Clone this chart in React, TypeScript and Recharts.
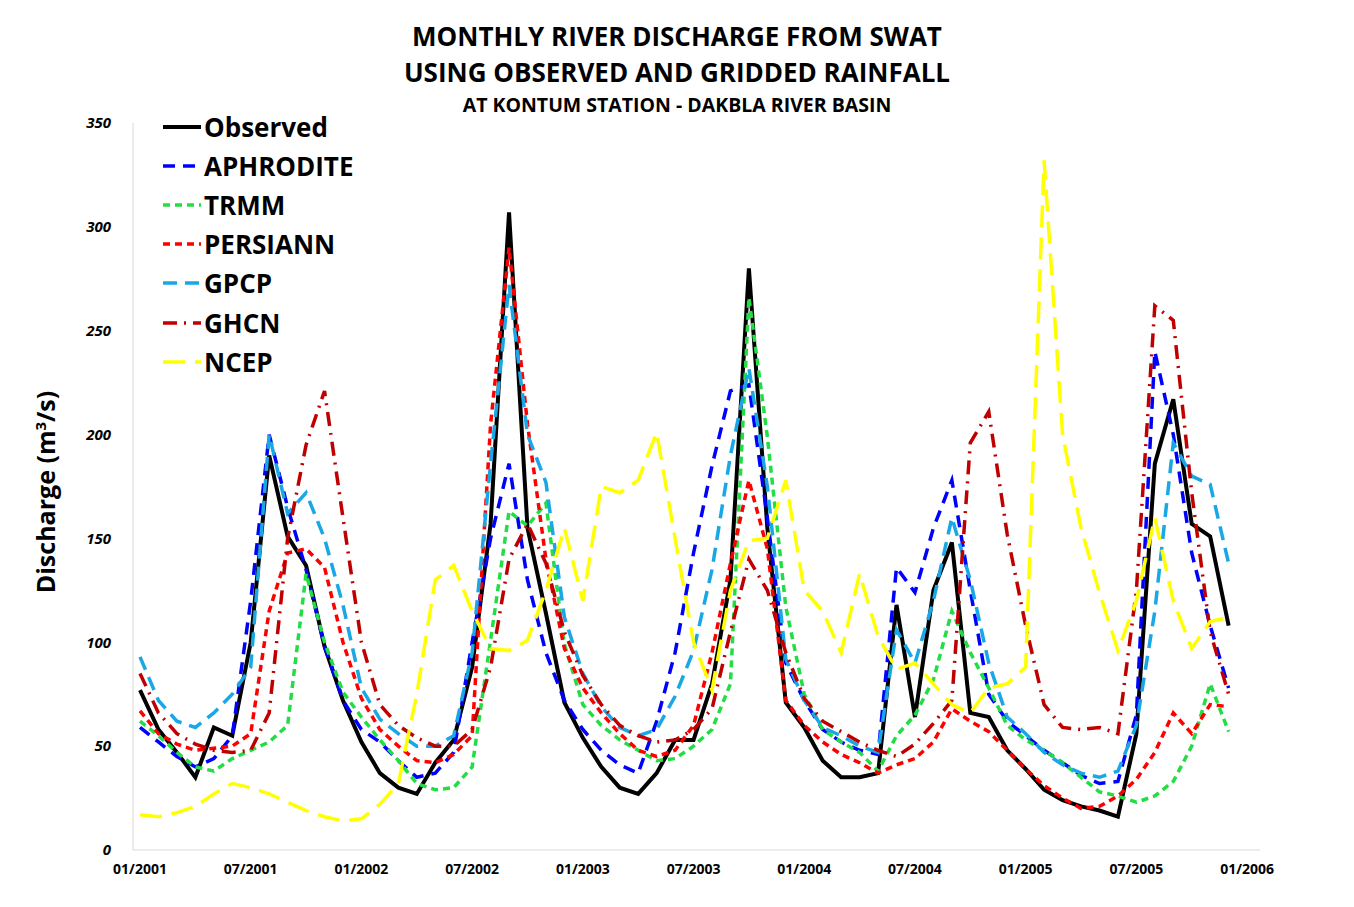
import React from "react";
import { LineChart, Line, XAxis, YAxis } from "recharts";

// monthly discharge (m3/s), 01/2001 .. 12/2005
const observed = [
    77, 58, 47, 35, 59, 55, 100, 190, 151, 137, 98, 72,
    52, 37, 30, 27, 42, 53, 88, 157, 307, 155, 114, 71,
    54, 40, 30, 27, 37, 53, 53, 80, 130, 280, 155, 71,
    59, 43, 35, 35, 37, 118, 64, 125, 148, 66, 64, 48,
    39, 29, 24, 21, 19, 16, 56, 186, 217, 157, 151, 108,
];
const aphrodite = [
    59, 52, 45, 40, 44, 55, 120, 200, 165, 135, 98, 72,
    58, 52, 43, 35, 37, 47, 100, 150, 186, 130, 95, 72,
    58, 48, 41, 37, 62, 95, 143, 185, 221, 224, 160, 90,
    72, 58, 52, 48, 46, 136, 124, 155, 178, 125, 75, 62,
    55, 48, 42, 36, 32, 33, 65, 240, 200, 143, 108, 78,
];
const trmm = [
    62, 55, 47, 40, 38, 44, 48, 52, 60, 133, 100, 76,
    64, 53, 43, 32, 29, 30, 40, 101, 163, 156, 167, 99,
    70, 60, 53, 48, 43, 44, 50, 58, 80, 266, 199, 117,
    75, 58, 52, 47, 38, 55, 65, 82, 115, 95, 78, 60,
    53, 48, 42, 35, 28, 26, 23, 26, 33, 50, 80, 57,
];
const persiann = [
    67, 56, 51, 48, 49, 50, 56, 115, 143, 145, 136, 100,
    73, 58, 50, 43, 42, 46, 55, 205, 290, 205, 140, 97,
    78, 66, 56, 48, 45, 48, 60, 95, 138, 178, 145, 72,
    60, 52, 46, 42, 37, 41, 44, 52, 68, 62, 57, 48,
    39, 31, 25, 20, 21, 26, 34, 47, 66, 56, 70, 69,
];
const gpcp = [
    93, 72, 62, 59, 66, 75, 88, 200, 162, 172, 150, 118,
    78, 63, 56, 50, 50, 55, 95, 186, 272, 200, 177, 112,
    85, 69, 59, 55, 58, 74, 96, 135, 190, 232, 175, 92,
    72, 59, 55, 50, 47, 106, 90, 120, 160, 130, 90, 64,
    56, 47, 41, 37, 35, 38, 60, 115, 196, 180, 176, 138,
];
const ghcn = [
    85, 66, 56, 51, 48, 47, 48, 66, 150, 195, 221, 160,
    100, 70, 60, 54, 50, 50, 58, 88, 140, 157, 138, 105,
    84, 70, 60, 55, 52, 53, 58, 68, 105, 140, 125, 95,
    73, 62, 57, 52, 48, 45, 51, 61, 72, 196, 211, 152,
    108, 70, 59, 58, 59, 56, 125, 262, 255, 172, 105, 75,
];
const ncep = [
    17, 16, 18, 21, 27, 32, 30, 27, 23, 19, 16, 14,
    15, 22, 32, 75, 130, 137, 115, 97, 96, 101, 125, 155,
    120, 175, 172, 178, 201, 150, 100, 77, 125, 149, 150, 178,
    125, 115, 95, 133, 103, 87, 90, 80, 70, 66, 78, 80,
    88, 332, 200, 155, 124, 96, 120, 160, 120, 97, 110, 112,
];

const tickPositions = [0, 6, 12, 18, 24, 30, 36, 42, 48, 54, 60];
const tickLabels = [
    "01/2001", "07/2001", "01/2002", "07/2002", "01/2003", "07/2003",
    "01/2004", "07/2004", "01/2005", "07/2005", "01/2006",
];
const yTicks = [0, 50, 100, 150, 200, 250, 300, 350];

const SERIES = [
    { key: "observed", name: "Observed", color: "#000000", dash: undefined, width: 4 },
    { key: "aphrodite", name: "APHRODITE", color: "#0000ff", dash: "12 8", width: 3.5 },
    { key: "trmm", name: "TRMM", color: "#22dd44", dash: "7 5", width: 3.5 },
    { key: "persiann", name: "PERSIANN", color: "#ff0000", dash: "7 5", width: 3.5 },
    { key: "gpcp", name: "GPCP", color: "#1aa7e6", dash: "14 8", width: 3.5 },
    { key: "ghcn", name: "GHCN", color: "#c00000", dash: "14 7 2 7", width: 3.5 },
    { key: "ncep", name: "NCEP", color: "#ffff00", dash: "22 10", width: 3.5 },
];

const data = observed.map((v, i) => ({
    m: i,
    observed: v,
    aphrodite: aphrodite[i],
    trmm: trmm[i],
    persiann: persiann[i],
    gpcp: gpcp[i],
    ghcn: ghcn[i],
    ncep: ncep[i],
}));

const FONT = "'Open Sans', sans-serif";

const LegendBox = () => (
    <div style={{ position: "absolute", left: 162, top: 107, fontFamily: FONT }}>
        {SERIES.map((s) => (
            <div key={s.key} style={{ display: "flex", alignItems: "center", height: 39.2 }}>
                <svg width={40} height={10}>
                    <line x1={1} y1={5} x2={39} y2={5} stroke={s.color} strokeWidth={s.width} strokeDasharray={s.dash} />
                </svg>
                <span style={{ fontSize: 26, fontWeight: 700, color: "#000", marginLeft: 2 }}>{s.name}</span>
            </div>
        ))}
    </div>
);

export default function App() {
    return (
        <div style={{ position: "fixed", left: 0, top: 0, width: 1354, height: 907, background: "#fff", fontFamily: FONT }}>
            <div style={{ position: "absolute", left: 0, top: 0 }}>
                <LineChart width={1354} height={907} data={data} margin={{ top: 123, right: 94, bottom: 27, left: 73 }}>
                    <XAxis
                        dataKey="m"
                        type="number"
                        domain={[-0.38, 60.7]}
                        ticks={tickPositions}
                        tickFormatter={(v) => tickLabels[tickPositions.indexOf(v)]}
                        allowDataOverflow
                        height={30}
                        stroke="#d9d9d9"
                        tickLine={false}
                        tick={{ fill: "#000", fontSize: 14, fontWeight: 700, fontFamily: FONT }}
                        tickMargin={8}
                        interval={0}
                    />
                    <YAxis
                        domain={[0, 350]}
                        ticks={yTicks}
                        width={60}
                        stroke="#d9d9d9"
                        tickLine={false}
                        tick={{ fill: "#000", fontSize: 15, fontWeight: 700, fontStyle: "italic", fontFamily: FONT }}
                        tickMargin={16}
                        interval={0}
                    />
                    {SERIES.map((s) => (
                        <Line
                            key={s.key}
                            type="linear"
                            dataKey={s.key}
                            name={s.name}
                            stroke={s.color}
                            strokeWidth={s.width}
                            strokeDasharray={s.dash}
                            dot={false}
                            activeDot={false}
                            isAnimationActive={false}
                        />
                    ))}
                </LineChart>
            </div>

            {/* title */}
            <div style={{ position: "absolute", left: 0, width: 1354, top: 18, textAlign: "center", fontWeight: 700, color: "#000" }}>
                <div style={{ fontSize: 26, lineHeight: "36px" }}>MONTHLY RIVER DISCHARGE FROM SWAT</div>
                <div style={{ fontSize: 26, lineHeight: "36px" }}>USING OBSERVED AND GRIDDED RAINFALL</div>
                <div style={{ fontSize: 19.5, lineHeight: "30px" }}>AT KONTUM STATION - DAKBLA RIVER BASIN</div>
            </div>

            {/* y axis title */}
            <div
                style={{
                    position: "absolute",
                    left: 45,
                    top: 492,
                    transform: "translate(-50%, -50%) rotate(-90deg)",
                    whiteSpace: "nowrap",
                    fontSize: 25,
                    fontWeight: 700,
                    color: "#000",
                }}
            >
                Discharge (m<sup style={{ fontSize: 15 }}>3</sup>/s)
            </div>

            <LegendBox />
        </div>
    );
}
